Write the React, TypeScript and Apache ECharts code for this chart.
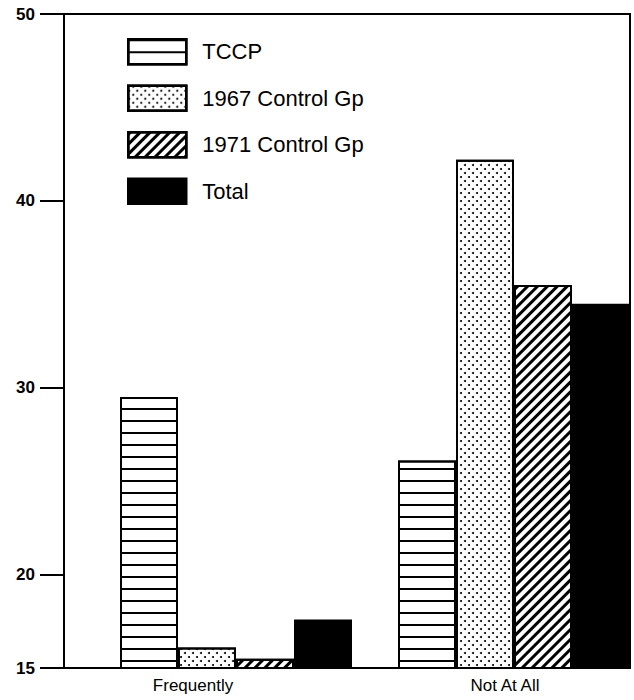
import React, { useEffect, useRef } from "react";
import * as echarts from "echarts";

const categories = ["Frequently", "Not At All"];
const seriesNames = ["TCCP", "1967 Control Gp", "1971 Control Gp", "Total"];
const tccp = [29.5, 26.1];
const control1967 = [16.1, 42.2];
const control1971 = [15.5, 35.5];
const total = [17.6, 34.5];
const yTicks = [15, 20, 30, 40, 50];

const FONT = "'Liberation Sans', Arial, sans-serif";

export default function App() {
  const ref = useRef<HTMLDivElement>(null);
  useEffect(() => {
    document.body.style.margin = "0";
    const chart = echarts.init(ref.current!, null, { renderer: "svg" });
    const decals: any[] = [
      { symbol: "rect", symbolSize: 1, dashArrayX: [1, 0], dashArrayY: [2, 9.7], color: "#000", backgroundColor: "#fff" },
      { symbol: "circle", symbolSize: 1, dashArrayX: [[2, 6], [0, 4, 2, 2]], dashArrayY: [2, 2], color: "#000", backgroundColor: "#fff" },
      { symbol: "rect", symbolSize: 1, dashArrayX: [1, 0], dashArrayY: [3, 4], rotation: -Math.PI / 4, color: "#000", backgroundColor: "#fff" },
      null,
    ];
    const values = [tccp, control1967, control1971, total];
    const series = seriesNames.map((name, i) => ({
      name,
      type: "bar",
      xAxisIndex: 1,
      yAxisIndex: 1,
      data: values[i],
      barWidth: 58,
      barGap: "0%",
      clip: true,
      itemStyle: {
        color: i === 3 ? "#000" : "#fff",
        borderColor: "#000",
        borderWidth: 2,
        decal: decals[i] || undefined,
      },
    }));
    chart.setOption({
      animation: false,
      backgroundColor: "#fff",
      grid: [
        { left: 64, right: 4, top: 14, bottom: 32, outerBoundsMode: "none", show: true, borderColor: "#000", borderWidth: 2, backgroundColor: "transparent" },
        { left: 97, width: 556, top: 14, bottom: 32, outerBoundsMode: "none" },
      ],
      legend: {
        orient: "vertical",
        left: 127,
        top: 38,
        padding: 0,
        icon: "rect",
        itemWidth: 58,
        itemHeight: 25,
        itemGap: 19,
        data: seriesNames,
        textStyle: { fontFamily: FONT, fontSize: 22, color: "#000", padding: [0, 0, 0, 11] },
        itemStyle: { borderColor: "#000", borderWidth: 2.5 },
      },
      xAxis: [
        { gridIndex: 0, type: "category", data: [""], axisLine: { lineStyle: { color: "#000", width: 2 } }, axisTick: { show: false }, axisLabel: { show: false } },
        {
          gridIndex: 1,
          type: "category",
          data: categories,
          axisLine: { show: false },
          axisTick: { show: false },
          axisLabel: {
            margin: 9,
            fontFamily: FONT,
            fontSize: 17,
            color: "#000",
            formatter: (v: string, i: number) => (i === 0 ? "{a|" + v + "}" : "{b|" + v + "}"),
            rich: {
              a: { fontFamily: FONT, fontSize: 17, color: "#000", padding: [0, 86, 0, 0] },
              b: { fontFamily: FONT, fontSize: 17, color: "#000", padding: [0, 18, 0, 0] },
            },
          },
        },
      ],
      yAxis: [
        {
          gridIndex: 0,
          type: "value",
          min: 15,
          max: 50,
          splitLine: { show: false },
          axisLine: { show: true, lineStyle: { color: "#000", width: 2 } },
          axisTick: { show: true, length: 24, lineStyle: { color: "#000", width: 2 }, customValues: yTicks },
          axisLabel: { margin: 29, fontFamily: FONT, fontSize: 17, fontWeight: "bold", color: "#000", customValues: yTicks },
        },
        { gridIndex: 1, type: "value", min: 15, max: 50, show: false, splitLine: { show: false } },
      ],
      series,
    });
    return () => chart.dispose();
  }, []);
  return <div ref={ref} style={{ width: 634, height: 700 }} />;
}
